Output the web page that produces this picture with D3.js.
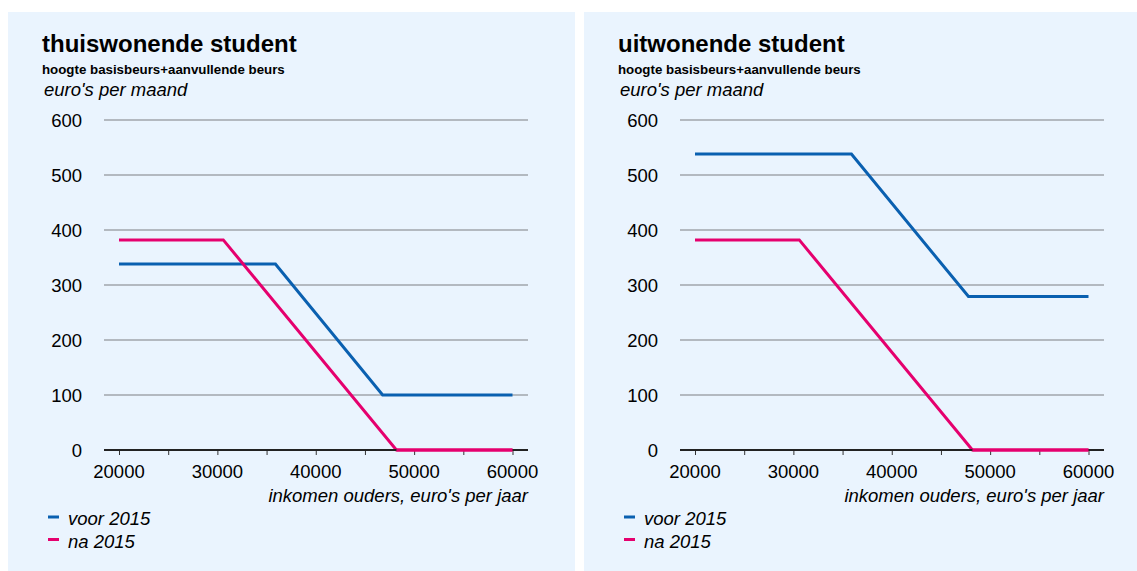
<!DOCTYPE html>
<html>
<head>
<meta charset="utf-8">
<script src="https://cdn.jsdelivr.net/npm/d3@7"></script>
<style>
  body { margin: 0; background: #fff; }
  svg { display: block; font-family: "Liberation Sans", Arial, sans-serif; }
</style>
</head>
<body>
<div id="chart"></div>
<script>
const yTicks = [0, 100, 200, 300, 400, 500, 600];
const xTicks = [20000, 30000, 40000, 50000, 60000];
const xMinorTicks = [20000, 25000, 30000, 35000, 40000, 45000, 50000, 55000, 60000];

// breakpoints of the lines, income -> amount
const xThuisVoor = [20000, 35900, 46800, 60000];
const yThuisVoor = [338, 338, 100, 100];
const xThuisNa = [20000, 30600, 48200, 60000];
const yThuisNa = [382, 382, 0, 0];
const xUitVoor = [20000, 35900, 47800, 60000];
const yUitVoor = [538, 538, 279, 279];
const xUitNa = [20000, 30600, 48200, 60000];
const yUitNa = [382, 382, 0, 0];

const seriesNames = ["voor 2015", "na 2015"];
const colors = ["#0a60b0", "#e5006e"];

const W = 1137, H = 571;
const svg = d3.select("#chart").append("svg").attr("width", W).attr("height", H);

function panel(ox, pw, title, series) {
  const g = svg.append("g").attr("transform", `translate(${ox},0)`);
  g.append("rect").attr("x", 0).attr("y", 12).attr("width", pw).attr("height", H - 12).attr("fill", "#eaf4fe");

  g.append("text").attr("x", 34).attr("y", 52).attr("font-size", 24).attr("font-weight", "bold").text(title);
  g.append("text").attr("x", 34).attr("y", 74).attr("font-size", 13.3).attr("font-weight", "bold").text("hoogte basisbeurs+aanvullende beurs");
  g.append("text").attr("x", 36).attr("y", 96).attr("font-size", 18.5).attr("font-style", "italic").text("euro's per maand");

  const x = d3.scaleLinear().domain([20000, 60000]).range([111, 504.5]);
  const y = d3.scaleLinear().domain([0, 600]).range([450, 120]);
  const left = 96, right = 520;

  // grid lines
  g.selectAll(".grid").data(yTicks.filter(d => d > 0)).enter().append("line")
    .attr("x1", left).attr("x2", right)
    .attr("y1", d => y(d)).attr("y2", d => y(d))
    .attr("stroke", "#7c7f82").attr("stroke-width", 1.2);

  g.selectAll(".ylab").data(yTicks).enter().append("text")
    .attr("x", 74).attr("y", d => y(d)).attr("dy", "0.36em")
    .attr("text-anchor", "end").attr("font-size", 18.5).text(d => d);

  // x axis
  const xAxis = d3.axisBottom(x).tickValues(xMinorTicks).tickSize(5).tickFormat("");
  const ax = g.append("g").attr("transform", `translate(0,${y(0)})`).call(xAxis);
  ax.select(".domain").remove();
  ax.selectAll(".tick line").attr("stroke", "#333").attr("stroke-width", 1);

  g.selectAll(".xlab").data(xTicks).enter().append("text")
    .attr("x", d => x(d)).attr("y", 478).attr("text-anchor", "middle")
    .attr("font-size", 18.5).text(d => d);

  g.append("text").attr("x", right).attr("y", 502).attr("text-anchor", "end")
    .attr("font-size", 18.5).attr("font-style", "italic").text("inkomen ouders, euro's per jaar");

  const line = d3.line().x(d => x(d[0])).y(d => y(d[1]));
  series.forEach((s, i) => {
    g.append("path").datum(d3.zip(s[0], s[1])).attr("d", line)
      .attr("fill", "none").attr("stroke", colors[i]).attr("stroke-width", 3);
  });

  // baseline on top
  g.append("line").attr("x1", left).attr("x2", right).attr("y1", y(0)).attr("y2", y(0))
    .attr("stroke", "#222").attr("stroke-width", 2.2);
  series.forEach((s, i) => {
    g.append("path").datum(d3.zip(s[0], s[1]).filter(p => p[1] === 0)).attr("d", line)
      .attr("fill", "none").attr("stroke", colors[i]).attr("stroke-width", 3);
  });

  // legend
  seriesNames.forEach((n, i) => {
    const ly = 517 + i * 22.5;
    g.append("line").attr("x1", 40).attr("x2", 51).attr("y1", ly).attr("y2", ly)
      .attr("stroke", colors[i]).attr("stroke-width", 3);
    g.append("text").attr("x", 60).attr("y", ly + 8).attr("font-size", 18.5)
      .attr("font-style", "italic").text(n);
  });
}

panel(8, 567, "thuiswonende student", [[xThuisVoor, yThuisVoor], [xThuisNa, yThuisNa]]);
panel(584, 553, "uitwonende student", [[xUitVoor, yUitVoor], [xUitNa, yUitNa]]);
</script>
</body>
</html>
